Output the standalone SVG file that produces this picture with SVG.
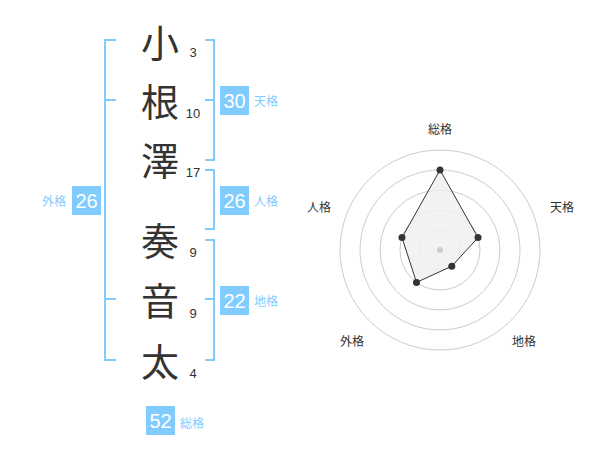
<svg xmlns="http://www.w3.org/2000/svg" width="600" height="470" viewBox="0 0 600 470">
<style>
.k{font-family:"Noto Sans CJK JP","Noto Sans CJK SC",sans-serif;font-size:38px;fill:#333;text-anchor:middle}
.n{font-family:"Liberation Sans",Arial,sans-serif;font-size:13px;fill:#333;text-anchor:middle}
.br{fill:none;stroke:#80ccff;stroke-width:2}
.box{fill:#80ccff}
.bv{font-family:"Liberation Sans",Arial,sans-serif;font-size:20px;fill:#fff;text-anchor:middle}
.bl{font-family:"Noto Sans CJK JP","Noto Sans CJK SC",sans-serif;font-size:12px;fill:#80ccff}
.ring{fill:none;stroke:#ccc;stroke-width:1}
.rl{font-family:"Noto Sans CJK JP","Noto Sans CJK SC",sans-serif;font-size:12px;fill:#333;text-anchor:middle}
.pt{fill:#333}
</style>
<rect width="600" height="470" fill="#fff"/>
<g id="name">
<text class="k" x="160" y="57">小</text>
<text class="k" x="160" y="116">根</text>
<text class="k" x="160" y="175">澤</text>
<text class="k" x="160" y="255">奏</text>
<text class="k" x="160" y="315">音</text>
<text class="k" x="160" y="376">太</text>
<text class="n" x="193" y="57">3</text>
<text class="n" x="193" y="118">10</text>
<text class="n" x="193" y="177">17</text>
<text class="n" x="193" y="257">9</text>
<text class="n" x="193" y="318">9</text>
<text class="n" x="193" y="378">4</text>
</g>
<g id="connectors">
<path class="br" d="M116,40 H105 V360 H116 M105,100 H116 M105,299 H116"/>
<path class="br" d="M205,40 H214 V160 H205 M214,100 H205"/>
<path class="br" d="M205,170 H214 V229 H205"/>
<path class="br" d="M205,240 H214 V360 H205 M214,299 H205"/>
</g>
<g id="tenkaku">
<rect class="box" x="220" y="86" width="29" height="29"/>
<text class="bv" x="234.5" y="108">30</text>
<text class="bl" x="254" y="106">天格</text>
</g>
<g id="jinkaku">
<rect class="box" x="220" y="186" width="29" height="29"/>
<text class="bv" x="234.5" y="208">26</text>
<text class="bl" x="254" y="206">人格</text>
</g>
<g id="chikaku">
<rect class="box" x="220" y="286" width="29" height="29"/>
<text class="bv" x="234.5" y="308">22</text>
<text class="bl" x="254" y="306">地格</text>
</g>
<g id="gaikaku">
<rect class="box" x="72" y="186" width="29" height="29"/>
<text class="bv" x="86.5" y="208">26</text>
<text class="bl" x="66" y="206" text-anchor="end">外格</text>
</g>
<g id="soukaku">
<rect class="box" x="146" y="406" width="29" height="29"/>
<text class="bv" x="160.5" y="428">52</text>
<text class="bl" x="180" y="428">総格</text>
</g>
<g id="radar">
<circle class="ring" cx="440" cy="250" r="20"/>
<circle class="ring" cx="440" cy="250" r="40"/>
<circle class="ring" cx="440" cy="250" r="60"/>
<circle class="ring" cx="440" cy="250" r="80"/>
<circle class="ring" cx="440" cy="250" r="100"/>
<polygon points="440,170 478,237.6 451.8,266.2 416.5,282.4 402,237.6" fill="#f0f0f0" fill-opacity="0.85" stroke="#333" stroke-width="1"/>
<circle cx="440" cy="250" r="3" fill="#ccc"/>
<circle class="pt" cx="440" cy="170" r="3.5"/>
<circle class="pt" cx="478" cy="237.6" r="3.5"/>
<circle class="pt" cx="451.8" cy="266.2" r="3.5"/>
<circle class="pt" cx="416.5" cy="282.4" r="3.5"/>
<circle class="pt" cx="402" cy="237.6" r="3.5"/>
<text class="rl" x="440" y="134">総格</text>
<text class="rl" x="562" y="212">天格</text>
<text class="rl" x="524" y="346">地格</text>
<text class="rl" x="352" y="346">外格</text>
<text class="rl" x="319" y="212">人格</text>
</g>
</svg>
